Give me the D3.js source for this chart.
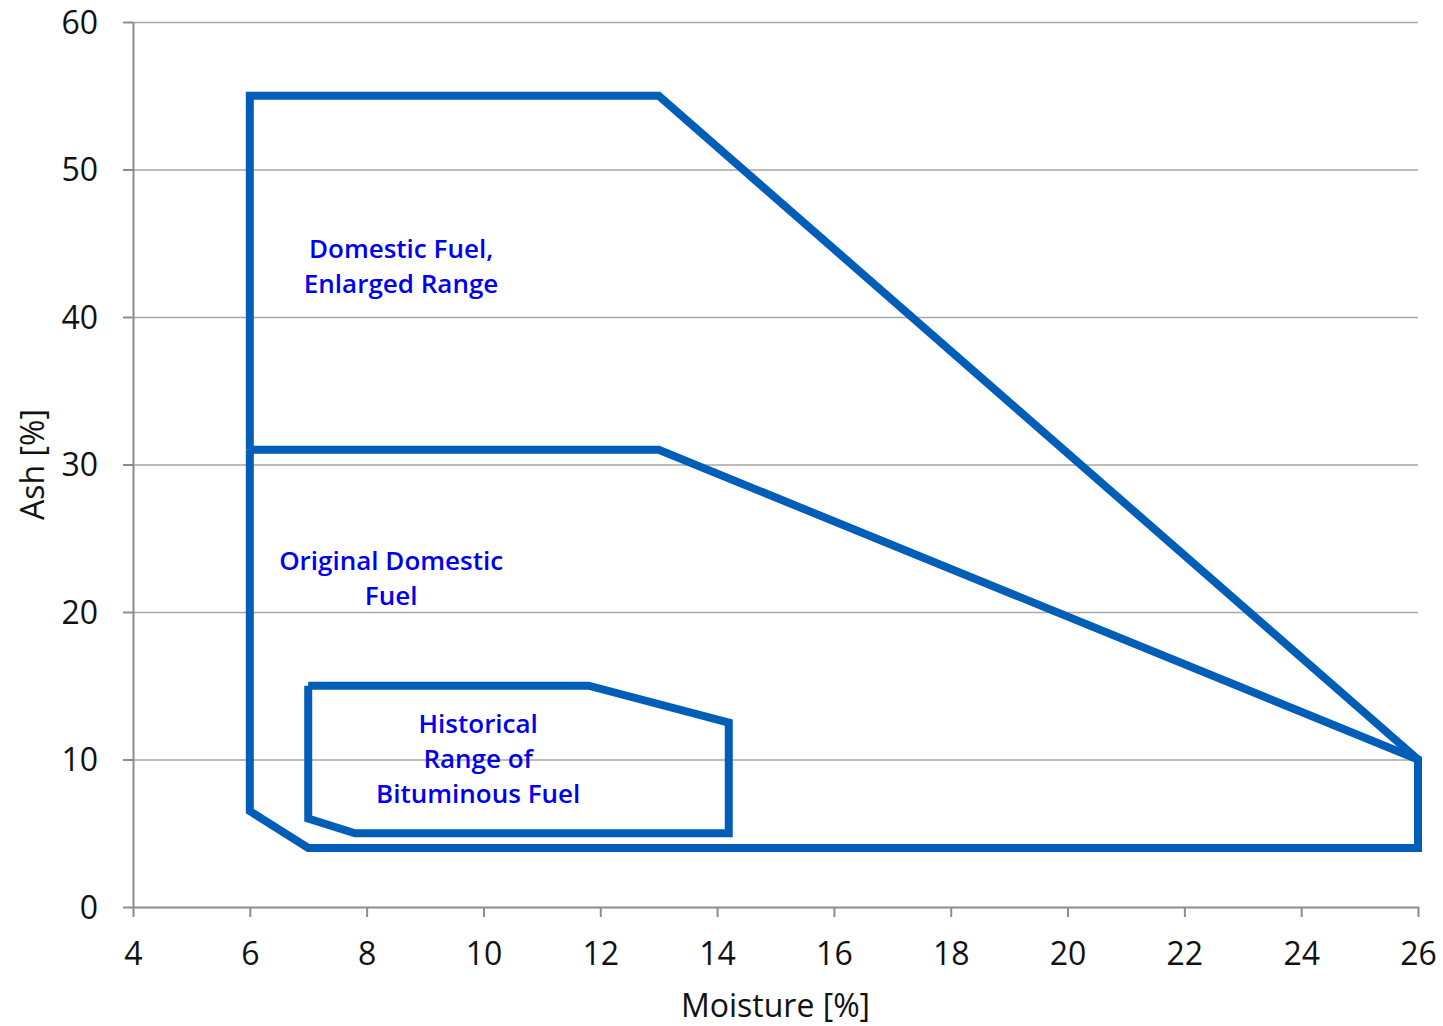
<!DOCTYPE html>
<html>
<head>
<meta charset="utf-8">
<script src="https://cdn.jsdelivr.net/npm/d3@7"></script>
<style>
  html, body { margin: 0; padding: 0; background: #fff; }
  #chart { width: 1443px; height: 1026px; }
  text { font-family: "Open Sans", "Noto Sans", sans-serif; }
  .axis text { fill: #111; font-size: 32px; }
  .axis line, .axis path { stroke: #8c8c8c; stroke-width: 2; }
  .grid line { stroke: #a6a6a6; stroke-width: 1.5; }
  .region { fill: none; stroke: #005eb8; stroke-width: 8; stroke-linejoin: miter; }
  .label { fill: #0000ee; font-size: 26px; font-weight: 600; text-anchor: middle; }
</style>
</head>
<body>
<div id="chart"></div>
<script>
'use strict';

const MARGIN = { top: 22, right: 25, bottom: 119, left: 133 };

const xTicks = [4, 6, 8, 10, 12, 14, 16, 18, 20, 22, 24, 26];
const yTicks = [0, 10, 20, 30, 40, 50, 60];

// moisture / ash outlines
const enlargedRange = [[6, 31], [6, 55], [13, 55], [26, 10]];
const originalRange = [[6, 31], [13, 31], [26, 10], [26, 4], [7, 4], [6, 6.5], [6, 31]];
const historicalRange = [[7, 15], [11.8, 15], [14.2, 12.5], [14.2, 5], [7.8, 5], [7, 6], [7, 15]];

const labels = [
  { x: 8.59, y: 44.0, lines: ['Domestic Fuel,', 'Enlarged Range'] },
  { x: 8.42, y: 22.85, lines: ['Original Domestic', 'Fuel'] },
  { x: 9.91, y: 11.8, lines: ['Historical', 'Range of', 'Bituminous Fuel'] },
];

const W = 1443, H = 1026;
const w = W - MARGIN.left - MARGIN.right;
const h = H - MARGIN.top - MARGIN.bottom;

const x = d3.scaleLinear().domain([4, 26]).range([0, w]);
const y = d3.scaleLinear().domain([0, 60]).range([h, 0]);

const svg = d3.select('#chart').append('svg')
  .attr('width', W).attr('height', H);

const g = svg.append('g')
  .attr('transform', `translate(${MARGIN.left},${MARGIN.top})`);

g.append('g')
  .attr('class', 'grid')
  .call(d3.axisLeft(y).tickValues(yTicks.filter(d => d > 0)).tickSize(-w).tickFormat(''))
  .call(grp => grp.select('.domain').remove());

g.append('g')
  .attr('class', 'axis x-axis')
  .attr('transform', `translate(0,${h})`)
  .call(d3.axisBottom(x).tickValues(xTicks).tickSize(10).tickSizeOuter(0).tickPadding(25));

g.append('g')
  .attr('class', 'axis y-axis')
  .call(d3.axisLeft(y).tickValues(yTicks).tickSize(10).tickSizeOuter(0).tickPadding(25));

g.selectAll('.y-axis .tick text').attr('dy', '0.35em');

const line = d3.line().x(d => x(d[0])).y(d => y(d[1]));

[enlargedRange, originalRange, historicalRange].forEach(poly => {
  g.append('path')
    .datum(poly)
    .attr('class', 'region')
    .attr('d', line);
});

labels.forEach(l => {
  const t = g.append('text')
    .attr('class', 'label')
    .attr('x', x(l.x))
    .attr('y', y(l.y));
  l.lines.forEach((s, i) => {
    t.append('tspan')
      .attr('x', x(l.x))
      .attr('dy', i === 0 ? 0 : 35)
      .text(s);
  });
});

svg.append('text')
  .attr('x', MARGIN.left + w / 2)
  .attr('y', 1017)
  .attr('text-anchor', 'middle')
  .style('font-size', '32px')
  .style('fill', '#111')
  .text('Moisture [%]');

svg.append('text')
  .attr('transform', `translate(44,${MARGIN.top + h / 2}) rotate(-90)`)
  .attr('text-anchor', 'middle')
  .style('font-size', '32px')
  .style('fill', '#111')
  .text('Ash [%]');
</script>
</body>
</html>
